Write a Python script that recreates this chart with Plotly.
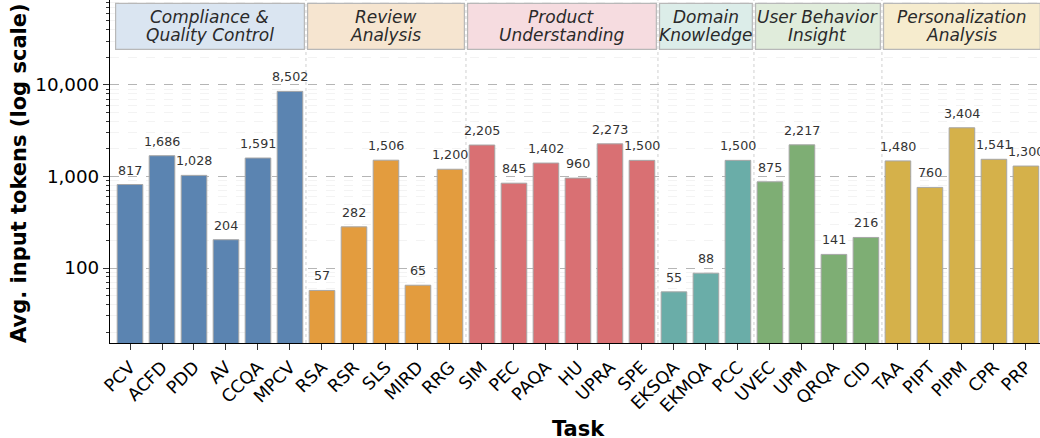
import math
import plotly.graph_objects as go

tasks = ["PCV", "ACFD", "PDD", "AV", "CCQA", "MPCV",
         "RSA", "RSR", "SLS", "MIRD", "RRG",
         "SIM", "PEC", "PAQA", "HU", "UPRA", "SPE",
         "EKSQA", "EKMQA", "PCC",
         "UVEC", "UPM", "QRQA", "CID",
         "TAA", "PIPT", "PIPM", "CPR", "PRP"]
tokens = [817, 1686, 1028, 204, 1591, 8502,
          57, 282, 1506, 65, 1200,
          2205, 845, 1402, 960, 2273, 1500,
          55, 88, 1500,
          875, 2217, 141, 216,
          1480, 760, 3404, 1541, 1300]
group_names = [["Compliance &", "Quality Control"],
               ["Review", "Analysis"],
               ["Product", "Understanding"],
               ["Domain", "Knowledge"],
               ["User Behavior", "Insight"],
               ["Personalization", "Analysis"]]
group_sizes = [6, 5, 6, 3, 4, 5]
bar_colors = ["#5b84b1", "#e39c3e", "#d97073", "#6aada8", "#7eae74", "#d5b14a"]
box_colors = ["#dae5f1", "#f6e5d0", "#f6dce0", "#dcede9", "#e0ecdb", "#f6ecce"]

colors = []
for c, n in zip(bar_colors, group_sizes):
    colors += [c] * n

xs = list(range(len(tasks)))
fig = go.Figure()
fig.add_trace(go.Bar(
    x=xs, y=tokens, width=0.8,
    marker=dict(color=colors, line=dict(color="#a6a6a6", width=1)),
    showlegend=False, hoverinfo="skip",
))

shapes = []
annotations = []
for x, v in zip(xs, tokens):
    # annotations on a log axis take log10 of the data value
    annotations.append(dict(x=x, y=math.log10(v), xref="x", yref="y", text=f"{v:,}",
                            showarrow=False, yanchor="bottom", xanchor="center",
                            yshift=5, font=dict(family="DejaVu Sans", size=12.7, color="#333333")))

start = 0
for gi, n in enumerate(group_sizes):
    end = start + n - 1
    if gi > 0:
        shapes.append(dict(type="line", xref="x", yref="paper",
                           x0=start - 0.5, x1=start - 0.5, y0=0, y1=1,
                           line=dict(color="#d0d0d0", width=1, dash="dot"),
                           layer="below"))
    shapes.append(dict(type="rect", xref="x", yref="paper",
                       x0=start - 0.45, x1=end + 0.45, y0=0.856, y1=0.990,
                       fillcolor=box_colors[gi],
                       line=dict(color="#b8b8b8", width=1.2), layer="above"))
    cx = (start + end) / 2
    for line, yy in zip(group_names[gi], [0.950, 0.897]):
        annotations.append(dict(x=cx, y=yy, xref="x", yref="paper",
                                text=f"<i>{line}</i>", showarrow=False,
                                font=dict(family="DejaVu Sans", size=17, color="#2a2a2a"),
                                xanchor="center", yanchor="middle"))
    start += n

annotations.append(dict(x=(19 - 110) / 930, y=1 - 173 / 343, xref="paper", yref="paper",
                        text="<b>Avg. input tokens (log scale)</b>", textangle=-90,
                        showarrow=False, font=dict(family="DejaVu Sans", size=21, color="black"),
                        xanchor="center", yanchor="middle"))
annotations.append(dict(x=(578 - 110) / 930, y=-(429 - 343) / 343, xref="paper", yref="paper",
                        text="<b>Task</b>", showarrow=False,
                        font=dict(family="DejaVu Sans", size=21, color="black"),
                        xanchor="center", yanchor="middle"))

minor_vals = [m * 10 ** e for e in range(1, 5) for m in range(2, 10)]

fig.update_layout(
    width=1040, height=438,
    margin=dict(l=110, r=0, t=0, b=95, autoexpand=False),
    plot_bgcolor="white", paper_bgcolor="white",
    font=dict(family="DejaVu Sans", color="black"),
    shapes=shapes, annotations=annotations,
    xaxis=dict(range=[-0.625, 28.44], tickmode="array", tickvals=xs, ticktext=tasks,
               tickangle=-45, tickfont=dict(size=17.5, color="black"),
               showline=True, linecolor="black", linewidth=1.2,
               ticks="outside", ticklen=6, tickcolor="#333333",
               showgrid=False, zeroline=False, automargin=False),
    yaxis=dict(type="log", range=[1.182, 4.927],
               tickmode="array", tickvals=[100, 1000, 10000],
               ticktext=["100", "1,000", "10,000"],
               tickfont=dict(size=18.3, color="black"),
               showline=True, linecolor="black", linewidth=1.2,
               ticks="outside", ticklen=6, tickcolor="#333333",
               showgrid=True, gridcolor="#b5b5b5", griddash="dash", gridwidth=1,
               minor=dict(tickmode="array", tickvals=minor_vals, ticks="outside",
                          ticklen=3, tickcolor="#333333", showgrid=True,
                          gridcolor="#f3f3f3", gridwidth=1),
               zeroline=False, automargin=False),
    bargap=0.2,
)

fig.write_html("out.html", config={"displayModeBar": False},
               post_script="document.body.style.margin='0';document.body.style.overflow='hidden';")
